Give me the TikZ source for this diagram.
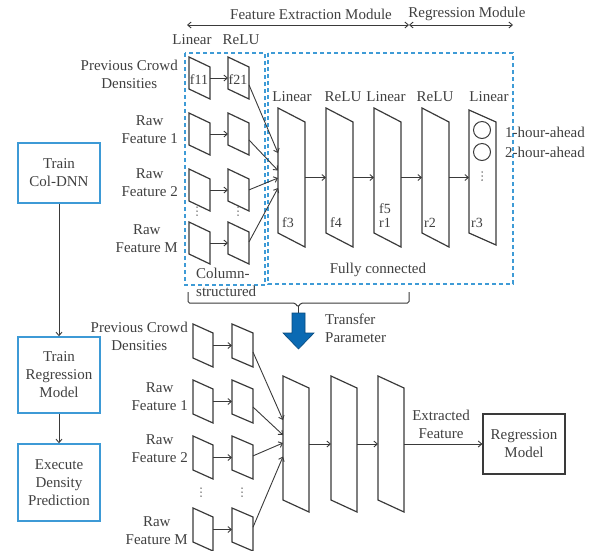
\documentclass[tikz,border=0pt]{standalone}
\usepackage{fontspec}
\setmainfont{Liberation Serif}
\usetikzlibrary{arrows.meta,calc}
\definecolor{txtgray}{HTML}{404040}
\definecolor{linegray}{HTML}{3A3A3A}
\definecolor{dashblue}{HTML}{3E9BD6}
\definecolor{boxblue}{HTML}{3D9AD6}
\definecolor{fatblue}{HTML}{0B6AB3}
\tikzset{
  lbl/.style={text=txtgray, font=\fontsize{15}{18}\selectfont, align=center, inner sep=0pt},
  tag/.style={text=txtgray, font=\fontsize{14}{16}\selectfont, inner sep=0pt},
  layerline/.style={draw=linegray, line width=1.2pt},
  arr/.style={draw=linegray, line width=0.9pt, -{Straight Barb[length=3.5pt,width=6pt]}},
  modarr/.style={draw=linegray, line width=0.9pt, {Straight Barb[length=3.5pt,width=6pt]}-{Straight Barb[length=3.5pt,width=6pt]}},
  groupbox/.style={draw=dashblue, line width=1.4pt, dash pattern=on 4pt off 3pt},
  stepbox/.style={draw=boxblue, line width=1.5pt, minimum width=82pt, text=txtgray, font=\fontsize{15}{18}\selectfont, align=center, inner sep=0pt},
  regbox/.style={draw=linegray, line width=1.2pt, minimum width=82pt, minimum height=60pt, text=txtgray, font=\fontsize{15}{18}\selectfont, align=center, inner sep=0pt},
  unit/.style={circle, draw=linegray, line width=1pt, minimum size=17pt, inner sep=0pt},
}
% layer: name, left x, top y, width, height, shear
\newcommand{\layer}[6]{%
  \draw[layerline] (#2,#3) -- (#2+#4,#3+#6) -- (#2+#4,#3+#5+#6) -- (#2,#3+#5) -- cycle;
  \coordinate (#1-nw) at (#2,#3);
  \coordinate (#1-ne) at (#2+#4,#3+#6);
  \coordinate (#1-sw) at (#2,#3+#5);
  \coordinate (#1-se) at (#2+#4,#3+#5+#6);
  \coordinate (#1-c) at (#2+#4/2,#3+#5/2+#6/2);
}
% vertical dots at x, top y
\newcommand{\vdotsat}[2]{%
  \foreach \k in {0,1,2}
    \fill[txtgray] (#1,#2+\k*4) circle (0.75pt);
}
\begin{document}
\begin{tikzpicture}[x=1pt,y=-1pt]
\useasboundingbox (0,0) rectangle (607,550);

% module headers
\coordinate (fe-l) at (187,25);
\coordinate (fe-r) at (409,25);
\coordinate (rm-r) at (513,25);
\draw[modarr] (fe-l) -- (fe-r);
\draw[modarr] (fe-r) -- (rm-r);
\node[lbl] (fe-txt) at (311,14) {Feature Extraction Module};
\node[lbl] (rm-txt) at (467,14) {Regression Module};

% dashed groups
\draw[groupbox] (185,53) rectangle (265,285);
\draw[groupbox] (268,53) rectangle (513,284);
\node[lbl, anchor=west, align=left] (colstr) at (196,282) {Column-\\structured};
\node[lbl] (fully) at (378,270) {Fully connected};

% ---- Col-DNN (top) ----
\node[lbl] (lin0) at (192,40) {Linear};
\node[lbl] (relu0) at (241,40) {ReLU};

\node[lbl, anchor=east] (in1) at (178,74) {Previous Crowd\\Densities};
\node[lbl, anchor=east] (in2) at (178,130) {Raw\\Feature 1};
\node[lbl, anchor=east] (in3) at (178,183) {Raw\\Feature 2};
\node[lbl, anchor=east] (in4) at (178,239) {Raw\\Feature M};

\layer{a1}{189}{57}{21}{32}{10}
\layer{a2}{189}{113}{21}{32}{10}
\layer{a3}{189}{169}{21}{32}{10}
\layer{a4}{189}{222}{21}{32}{10}
\layer{b1}{228}{57}{21}{32}{10}
\layer{b2}{228}{113}{21}{32}{10}
\layer{b3}{228}{169}{21}{32}{10}
\layer{b4}{228}{222}{21}{32}{10}
\node[tag] (f11) at (199,80) {f11};
\node[tag] (f21) at (238,80) {f21};
\vdotsat{197}{207}
\vdotsat{238}{207}

\foreach \i in {1,...,4}
  \draw[arr] (a\i-c -| a\i-ne) -- (a\i-c -| b\i-nw);

\layer{f3}{278}{108}{27}{125}{14}
\layer{f4}{326}{108}{27}{125}{14}
\layer{f5}{374}{108}{27}{125}{14}
\layer{r2}{422}{108}{27}{125}{14}
\layer{r3}{469}{110}{27}{123}{12}

\draw[arr] ($(b1-ne)!0.56!(b1-se)$) -- ($(f3-nw)!0.36!(f3-sw)$);
\draw[arr] ($(b2-ne)!0.53!(b2-se)$) -- ($(f3-nw)!0.5!(f3-sw)$);
\draw[arr] ($(b3-ne)!0.34!(b3-se)$) -- ($(f3-nw)!0.56!(f3-sw)$);
\draw[arr] ($(b4-ne)!0.31!(b4-se)$) -- ($(f3-nw)!0.64!(f3-sw)$);

\draw[arr] (f3-c -| f3-ne) -- (f3-c -| f4-nw);
\draw[arr] (f4-c -| f4-ne) -- (f4-c -| f5-nw);
\draw[arr] (f5-c -| f5-ne) -- (f5-c -| r2-nw);
\draw[arr] (r2-c -| r2-ne) -- (r2-c -| r3-nw);

\node[lbl] (lin1) at (292,97) {Linear};
\node[lbl] (relu1) at (343,97) {ReLU};
\node[lbl] (lin2) at (386,97) {Linear};
\node[lbl] (relu2) at (435,97) {ReLU};
\node[lbl] (lin3) at (489,97) {Linear};

\node[tag] (tf3) at (288,223) {f3};
\node[tag] (tf4) at (336,223) {f4};
\node[tag] (tf5) at (385,209) {f5};
\node[tag] (tr1) at (385,223) {r1};
\node[tag] (tr2) at (430,223) {r2};
\node[tag] (tr3) at (477,223) {r3};

\node[unit] (o1) at (482,130) {};
\node[unit] (o2) at (482,152) {};
\vdotsat{482}{172}
\node[lbl, anchor=west] (h1) at (505,132) {1-hour-ahead};
\node[lbl, anchor=west] (h2) at (505,152) {2-hour-ahead};

% ---- brace + transfer ----
\draw[linegray, line width=1pt, rounded corners=1.5pt]
  (188,292) -- (188,303) -- (295,303) -- (298,307) -- (301,303) -- (409,303) -- (409,292);
\draw[linegray, line width=1pt] (298,306) -- (298,313);
\draw[fill=fatblue, draw=fatblue!70!black, line width=0.6pt]
  (292,313) -- (305,313) -- (305,333) -- (314,333) -- (298.5,349) -- (283,333) -- (292,333) -- cycle;
\node[lbl, anchor=west, align=left] (transfer) at (325,328) {Transfer\\Parameter};

% ---- flow (left) ----
\node[stepbox, minimum height=60pt] (s1) at (59,173) {Train\\Col-DNN};
\node[stepbox, minimum height=76pt] (s2) at (59,375) {Train\\Regression\\Model};
\node[stepbox, minimum height=77pt] (s3) at (59,482.5) {Execute\\Density\\Prediction};
\draw[arr] (s1) -- (s2);
\draw[arr] (s2) -- (s3);

% ---- regression (bottom) ----
\node[lbl, anchor=east] (jn1) at (188,336.5) {Previous Crowd\\Densities};
\node[lbl, anchor=east] (jn2) at (188,397) {Raw\\Feature 1};
\node[lbl, anchor=east] (jn3) at (188,449) {Raw\\Feature 2};
\node[lbl, anchor=east] (jn4) at (188,531) {Raw\\Feature M};

\layer{c1}{193}{324}{20}{34}{9}
\layer{c2}{193}{380}{20}{34}{9}
\layer{c3}{193}{436}{20}{34}{9}
\layer{c4}{193}{508}{20}{34}{9}
\layer{d1}{232}{324}{21}{34}{9}
\layer{d2}{232}{380}{21}{34}{9}
\layer{d3}{232}{436}{21}{34}{9}
\layer{d4}{232}{508}{21}{34}{9}
\vdotsat{201}{488}
\vdotsat{242}{488}

\foreach \i in {1,...,4}
  \draw[arr] (c\i-c -| c\i-ne) -- (c\i-c -| d\i-nw);

\layer{g1}{283}{376}{26}{124}{12}
\layer{g2}{331}{376}{26}{124}{12}
\layer{g3}{378}{376}{26}{124}{12}

\draw[arr] ($(d1-ne)!0.56!(d1-se)$) -- ($(g1-nw)!0.355!(g1-sw)$);
\draw[arr] ($(d2-ne)!0.53!(d2-se)$) -- ($(g1-nw)!0.476!(g1-sw)$);
\draw[arr] ($(d3-ne)!0.32!(d3-se)$) -- ($(g1-nw)!0.54!(g1-sw)$);
\draw[arr] ($(d4-ne)!0.30!(d4-se)$) -- ($(g1-nw)!0.65!(g1-sw)$);

\draw[arr] (g1-c -| g1-ne) -- (g1-c -| g2-nw);
\draw[arr] (g2-c -| g2-ne) -- (g2-c -| g3-nw);

\node[regbox] (reg) at (524,444) {Regression\\Model};
\draw[arr] (g3-c -| g3-ne) -- (reg.west);
\node[lbl] (extr) at (441,424) {Extracted\\Feature};

\end{tikzpicture}
\end{document}
